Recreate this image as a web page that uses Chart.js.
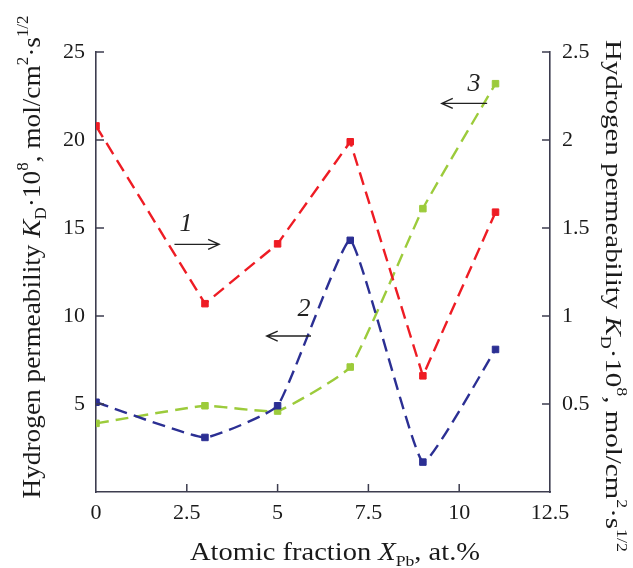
<!DOCTYPE html>
<html>
<head>
<meta charset="utf-8">
<script src="https://cdn.jsdelivr.net/npm/chart.js@4.4.1/dist/chart.umd.min.js"></script>
<style>
  html, body { margin: 0; padding: 0; background: #ffffff; }
  #wrap { width: 633px; height: 568px; position: relative; }
</style>
</head>
<body>
<div id="wrap"><canvas id="c"></canvas></div>
<script>
// ---- data ----
const xValues = [0, 3, 5, 7, 9, 11];
const series1Right = [2.08, 1.07, 1.41, 1.99, 0.66, 1.59];   // curve 1 (right axis)
const series2Left  = [5.1, 3.1, 4.9, 14.3, 1.7, 8.1];        // curve 2 (left axis)
const series3Left  = [3.9, 4.9, 4.6, 7.1, 16.1, 23.2];       // curve 3 (left axis)
const xTicks = [0, 2.5, 5, 7.5, 10, 12.5];
const leftTicks = [5, 10, 15, 20, 25];
const rightTicks = [0.5, 1, 1.5, 2, 2.5];
const seriesLabels = ['1', '2', '3'];
// annotation labels & arrows in data units (left axis units)
const labelMarks = [
  { text: '1', x: 2.48, y: 15.2 },
  { text: '2', x: 5.73, y: 10.4 },
  { text: '3', x: 10.41, y: 23.2 }
];
const arrowMarks = [
  { x0: 2.16, x1: 3.39, y: 14.07 },
  { x0: 5.92, x1: 4.70, y: 8.86 },
  { x0: 10.77, x1: 9.52, y: 22.08 }
];

const AXIS = '#3d3d4f';
const TXT = '#1a1a1a';
const SERIF = "'Liberation Serif', 'Times New Roman', Times, serif";

function pts(ys) { return xValues.map((x, i) => ({ x: x, y: ys[i] })); }

function richWidth(ctx, segs, fs) {
  let w = 0;
  segs.forEach(s => {
    const size = (s.sub || s.sup) ? fs * 0.62 : fs;
    ctx.font = (s.it ? 'italic ' : '') + size + 'px ' + SERIF;
    w += ctx.measureText(s.t).width;
  });
  return w;
}
function drawRich(ctx, segs, fs, cx, cy, rot, span) {
  ctx.save();
  ctx.translate(cx, cy);
  ctx.rotate(rot);
  const w = richWidth(ctx, segs, fs);
  const k = span ? span / w : 1;
  ctx.scale(k, 1);
  let x = -w / 2;
  ctx.fillStyle = TXT;
  ctx.textBaseline = 'alphabetic';
  ctx.textAlign = 'left';
  segs.forEach(s => {
    const size = (s.sub || s.sup) ? fs * 0.62 : fs;
    ctx.font = (s.it ? 'italic ' : '') + size + 'px ' + SERIF;
    let dy = 0;
    if (s.sub) dy = fs * 0.22;
    if (s.sup) dy = -fs * 0.45;
    ctx.fillText(s.t, x, dy);
    x += ctx.measureText(s.t).width;
  });
  ctx.restore();
}

const yTitleSegs = [
  { t: 'Hydrogen permeability ' }, { t: 'K', it: true }, { t: 'D', sub: true },
  { t: '\u00B710' }, { t: '8', sup: true }, { t: ', mol/cm' }, { t: '2', sup: true },
  { t: '\u00B7s' }, { t: '1/2', sup: true }
];
const xTitleSegs = [
  { t: 'Atomic fraction ' }, { t: 'X', it: true }, { t: 'Pb', sub: true }, { t: ', at.%' }
];

const decorPlugin = {
  id: 'decor',
  afterDraw(chart) {
    const ctx = chart.ctx;
    const xs = chart.scales.x, yl = chart.scales.y, yr = chart.scales.y1;
    const ca = chart.chartArea;
    ctx.save();
    ctx.strokeStyle = AXIS;
    ctx.lineWidth = 1.5;
    ctx.beginPath();
    xTicks.forEach(v => {
      if (v === xs.min || v === xs.max) return;
      const p = xs.getPixelForValue(v);
      ctx.moveTo(p, ca.bottom); ctx.lineTo(p, ca.bottom - 8);
    });
    leftTicks.forEach(v => {
      const p = yl.getPixelForValue(v);
      ctx.moveTo(ca.left, p); ctx.lineTo(ca.left + 8, p);
    });
    rightTicks.forEach(v => {
      const p = yr.getPixelForValue(v);
      ctx.moveTo(ca.right, p); ctx.lineTo(ca.right - 8, p);
    });
    ctx.stroke();

    ctx.strokeStyle = '#222';
    ctx.lineWidth = 1.4;
    arrowMarks.forEach(a => {
      const px0 = xs.getPixelForValue(a.x0), px1 = xs.getPixelForValue(a.x1);
      const py = yl.getPixelForValue(a.y);
      const dir = px1 > px0 ? 1 : -1;
      ctx.beginPath();
      ctx.moveTo(px0, py); ctx.lineTo(px1, py);
      ctx.moveTo(px1 - dir * 11, py - 5); ctx.lineTo(px1, py); ctx.lineTo(px1 - dir * 11, py + 5);
      ctx.stroke();
    });
    ctx.fillStyle = '#222';
    ctx.font = 'italic 26px ' + SERIF;
    ctx.textAlign = 'center';
    ctx.textBaseline = 'middle';
    labelMarks.forEach(m => {
      ctx.fillText(m.text, xs.getPixelForValue(m.x), yl.getPixelForValue(m.y));
    });
    ctx.restore();

    drawRich(ctx, yTitleSegs, 26, 40, 257, -Math.PI / 2, 483);
    drawRich(ctx, yTitleSegs, 24, 606, 296, Math.PI / 2, 512);
    drawRich(ctx, xTitleSegs, 25, 335, 560, 0, 290);
  }
};

function build() {
  new Chart(document.getElementById('c'), {
    type: 'line',
    data: {
      datasets: [
        {
          label: seriesLabels[0], data: pts(series1Right), yAxisID: 'y1',
          borderColor: '#ee1c24', backgroundColor: '#ee1c24',
          borderWidth: 2.4, borderDash: [13, 7], tension: 0,
          pointStyle: 'rect', pointRadius: 4.6, pointBorderWidth: 1
        },
        {
          label: seriesLabels[1], data: pts(series2Left), yAxisID: 'y',
          borderColor: '#2b2f93', backgroundColor: '#2b2f93',
          borderWidth: 2.4, borderDash: [13, 7], tension: 0.12,
          pointStyle: 'rect', pointRadius: 4.6, pointBorderWidth: 1
        },
        {
          label: seriesLabels[2], data: pts(series3Left), yAxisID: 'y',
          borderColor: '#9ccb3b', backgroundColor: '#9ccb3b',
          borderWidth: 2.4, borderDash: [13, 7], tension: 0.12,
          pointStyle: 'rect', pointRadius: 4.6, pointBorderWidth: 1
        }
      ]
    },
    options: {
      responsive: true,
      maintainAspectRatio: false,
      animation: false,
      events: [],
      layout: { padding: { top: 52, left: 0, right: 0, bottom: 0 } },
      plugins: { legend: { display: false }, tooltip: { enabled: false } },
      scales: {
        x: {
          type: 'linear', min: 0, max: 12.5,
          afterBuildTicks: s => { s.ticks = xTicks.map(v => ({ value: v })); },
          afterFit: s => { s.height = 76; },
          grid: { display: false, drawTicks: false },
          border: { display: true, color: AXIS, width: 1.6 },
          ticks: { color: TXT, padding: 8, font: { family: SERIF, size: 22 },
                   callback: v => String(v), maxRotation: 0, autoSkip: false }
        },
        y: {
          position: 'left', min: 0, max: 25,
          afterBuildTicks: s => { s.ticks = leftTicks.map(v => ({ value: v })); },
          afterFit: s => { s.width = 96; },
          grid: { display: false, drawTicks: false },
          border: { display: true, color: AXIS, width: 1.6 },
          ticks: { color: TXT, padding: 11, font: { family: SERIF, size: 22 },
                   callback: v => String(v) }
        },
        y1: {
          position: 'right', min: 0, max: 2.5,
          afterBuildTicks: s => { s.ticks = rightTicks.map(v => ({ value: v })); },
          afterFit: s => { s.width = 83; },
          grid: { display: false, drawTicks: false },
          border: { display: true, color: AXIS, width: 1.6 },
          ticks: { color: TXT, padding: 12, font: { family: SERIF, size: 22 },
                   callback: v => String(v) }
        }
      }
    },
    plugins: [decorPlugin]
  });
}
if (document.fonts && document.fonts.load) {
  document.fonts.load("22px 'Liberation Serif'").then(build, build);
} else { build(); }
</script>
</body>
</html>
